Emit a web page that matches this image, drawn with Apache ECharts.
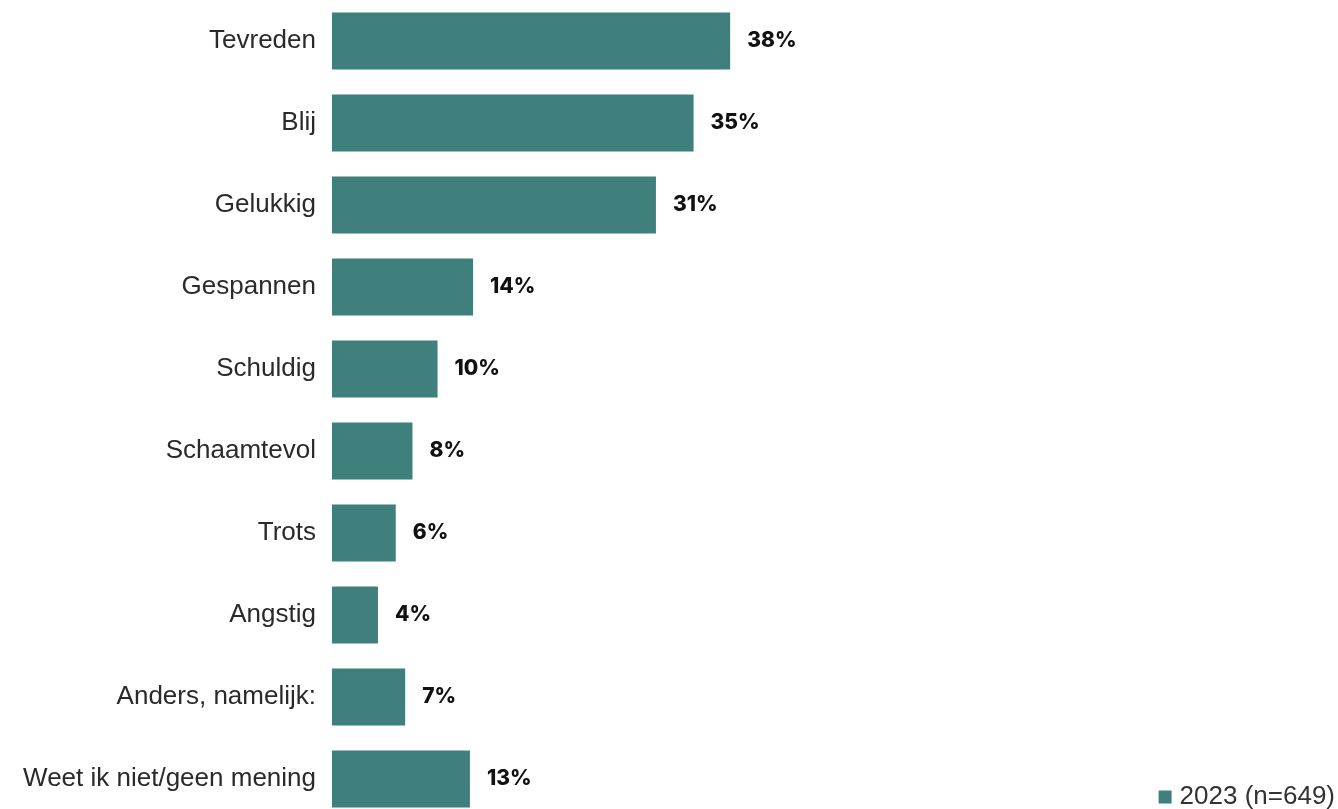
<!DOCTYPE html>
<html>
<head>
<meta charset="utf-8">
<script src="https://cdn.jsdelivr.net/npm/echarts@6/dist/echarts.min.js"></script>
<style>
html,body{margin:0;padding:0;background:#fff;}
#chart{width:1338px;height:809px;}
</style>
</head>
<body>
<div id="chart"></div>
<script>
const categories = ["Tevreden","Blij","Gelukkig","Gespannen","Schuldig","Schaamtevol","Trots","Angstig","Anders, namelijk:","Weet ik niet/geen mening"];
const values2023 = [38.1, 34.6, 31.0, 13.5, 10.1, 7.7, 6.1, 4.4, 7.0, 13.2];
const seriesName = "2023 (n=649)";

const chart = echarts.init(document.getElementById('chart'));
chart.setOption({
  animation: false,
  grid: { left: 332, top: 0, width: 627, height: 820, containLabel: false, outerBoundsMode: 'none' },
  legend: {
    data: [seriesName],
    right: 3, top: 784, padding: 0,
    itemWidth: 13, itemHeight: 13, itemGap: 6,
    icon: 'rect',
    textStyle: { fontFamily: "'Liberation Sans', Arial, sans-serif", fontSize: 26, color: '#333', padding: [0, 0, 0, 3] }
  },
  xAxis: {
    type: 'value', min: 0, max: 60,
    show: false
  },
  yAxis: {
    type: 'category', data: categories, inverse: true,
    axisLine: { show: false }, axisTick: { show: false },
    axisLabel: { margin: 16, fontFamily: "'Liberation Sans', Arial, sans-serif", fontSize: 26, color: '#2a2a2a', padding: [0, 0, 5, 0] }
  },
  series: [{
    name: seriesName,
    type: 'bar',
    data: values2023,
    barCategoryGap: '30.5%',
    itemStyle: { color: '#3f7f7c' },
    label: {
      show: true, position: 'right', distance: 17,
      formatter: p => Math.round(p.value) + '%',
      fontFamily: "Inter, 'DejaVu Sans', sans-serif", fontWeight: 800, fontSize: 21, color: '#111'
    }
  }]
});
</script>
</body>
</html>
